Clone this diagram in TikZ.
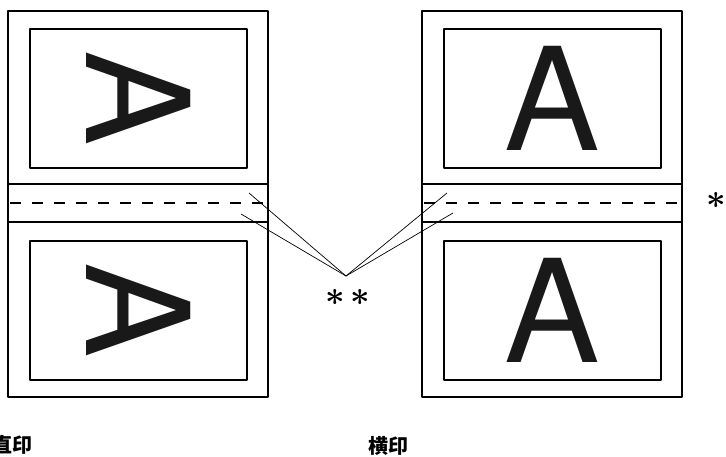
\RequirePackage{fix-cm}
\documentclass[tikz,border=0pt]{standalone}
\usepackage{amsmath}
\usepackage{fontspec}
\newfontfamily\letterfont{TeX Gyre Heros}
\newfontfamily\cjk{Noto Sans CJK SC}
\tikzset{
  sheetline/.style={line width=1.6pt, line join=round},
  foldline/.style={line width=1.6pt, dash pattern=on 11pt off 11pt},
  leader/.style={line width=0.7pt},
  bigletter/.style={inner sep=0pt, font=\letterfont\fontsize{143}{143}\selectfont, text=black!90},
  marklabel/.style={inner sep=0pt, font=\fontsize{34}{34}\selectfont},
  caption/.style={inner sep=0pt, font=\cjk\bfseries\fontsize{20}{20}\selectfont}
}
\begin{document}
\begin{tikzpicture}[x=1pt,y=-1pt]
  \useasboundingbox (0,0) rectangle (726,457);
  % Draw both sheets with their print areas
  \foreach \dx/\name/\turn in {0/vert/-90, 414/horiz/0} {
    \draw[sheetline] (8+\dx,11) rectangle (268+\dx,397);
    \draw[sheetline] (8+\dx,184) -- (268+\dx,184);
    \draw[sheetline] (8+\dx,222) -- (268+\dx,222);
    \draw[foldline] (10+\dx,203) -- (268+\dx,203);
    \draw[sheetline] (30+\dx,29) rectangle (247+\dx,168);
    \draw[sheetline] (30+\dx,241) rectangle (247+\dx,380);
    \node[bigletter, rotate=\turn] (\name-top) at (138.5+\dx,98.5) {A};
    \node[bigletter, rotate=\turn] (\name-bottom) at (138.5+\dx,310.5) {A};
  }

  % Leader lines to the margin marks
  \coordinate (apex) at (346,276);
  \coordinate (vert-upper) at (249,193);
  \coordinate (vert-lower) at (241,214);
  \coordinate (horiz-upper) at (447,193);
  \coordinate (horiz-lower) at (453,213);
  \foreach \from in {vert-upper, vert-lower, horiz-upper, horiz-lower} {
    \draw[leader] (\from) -- (apex);
  }
  \node[marklabel] (twostars) at (348,297.5) {${\boldsymbol{\ast}}\mkern3mu{\boldsymbol{\ast}}$};
  \node[marklabel] (onestar) at (716,200) {$\boldsymbol{\ast}$};

  % Captions
  \node[caption] (vert-caption) at (13,445) {直印};
  \node[caption] (horiz-caption) at (388,446) {横印};
\end{tikzpicture}
\end{document}
